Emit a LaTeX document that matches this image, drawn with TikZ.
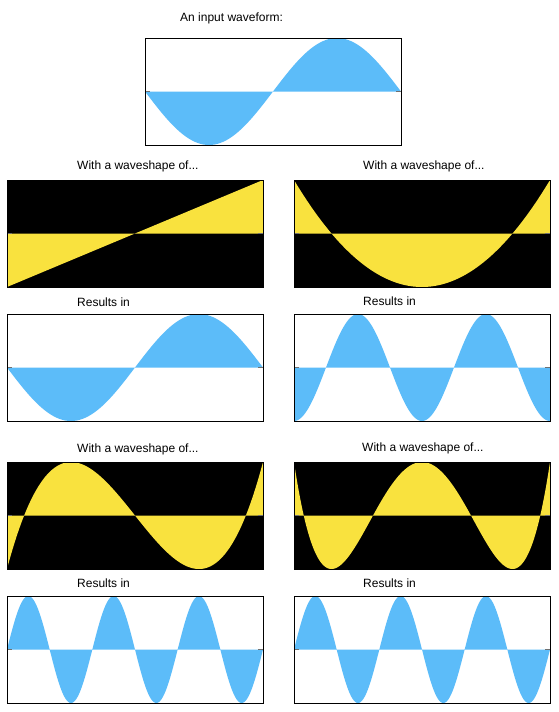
\documentclass[tikz,border=0pt]{standalone}
\usepackage{fontspec}
\setmainfont{Liberation Sans}
\definecolor{waveblue}{HTML}{5CBCF9}
\definecolor{shapeyellow}{HTML}{F9E23E}
\definecolor{tickgray}{HTML}{707070}
\newcommand\drawwave[3]{% #1 box name, #2 fill colour, #3 function of \s in [-1,1]
  \begin{scope}[shift={(#1.west)}]
    \fill[#2] (0,0) -- plot[domain=-1:1, samples=257, variable=\s] ({128*(\s+1)},{53.5*(#3)}) -- (256,0) -- cycle;
    \draw[axtick] (0,0) -- (5,0);
    \draw[axtick] (251,0) -- (256,0);
  \end{scope}
  \draw[frame] (#1.north west) rectangle (#1.south east);
}
\begin{document}
\begin{tikzpicture}[x=1pt,y=1pt,
  box/.style={rectangle, minimum width=256pt, minimum height=107pt, inner sep=0pt, outer sep=0pt, anchor=north west},
  shapebox/.style={box, fill=black},
  resbox/.style={box, fill=white},
  frame/.style={draw=black, line width=1pt},
  axtick/.style={draw=tickgray, line width=1.8pt},
  lbl/.style={anchor=base west, font=\fontsize{12}{14}\selectfont, inner sep=0pt}]
\useasboundingbox[fill=white] (0,0) rectangle (558,-712);

% labels
\node[lbl] (t0) at (180,-21.5) {An input waveform:};
\node[lbl] (t1l) at (77,-169) {With a waveshape of...};
\node[lbl] (t1r) at (363,-169) {With a waveshape of...};
\node[lbl] (t2l) at (77,-306) {Results in};
\node[lbl] (t2r) at (363,-305) {Results in};
\node[lbl] (t3l) at (77,-452) {With a waveshape of...};
\node[lbl] (t3r) at (362,-451.5) {With a waveshape of...};
\node[lbl] (t4l) at (77,-587) {Results in};
\node[lbl] (t4r) at (363,-587) {Results in};

% boxes
\node[resbox] (input) at (145,-38) {};
\node[shapebox] (s1) at (7,-180) {};
\node[shapebox] (s2) at (294,-180) {};
\node[resbox] (r1) at (7,-314) {};
\node[resbox] (r2) at (294,-314) {};
\node[shapebox] (s3) at (7,-462) {};
\node[shapebox] (s4) at (294,-462) {};
\node[resbox] (r3) at (7,-596) {};
\node[resbox] (r4) at (294,-596) {};

% waves
\drawwave{input}{waveblue}{-sin(180*(\s+1))}
\drawwave{s1}{shapeyellow}{\s}
\drawwave{s2}{shapeyellow}{2*\s*\s-1}
\drawwave{r1}{waveblue}{-sin(180*(\s+1))}
\drawwave{r2}{waveblue}{-cos(360*(\s+1))}
\drawwave{s3}{shapeyellow}{\s*(4*\s*\s-3)}
\drawwave{s4}{shapeyellow}{8*\s*\s*(\s*\s-1)+1}
\drawwave{r3}{waveblue}{sin(540*(\s+1))}
\drawwave{r4}{waveblue}{sin(540*(\s+1))}
\end{tikzpicture}
\end{document}
